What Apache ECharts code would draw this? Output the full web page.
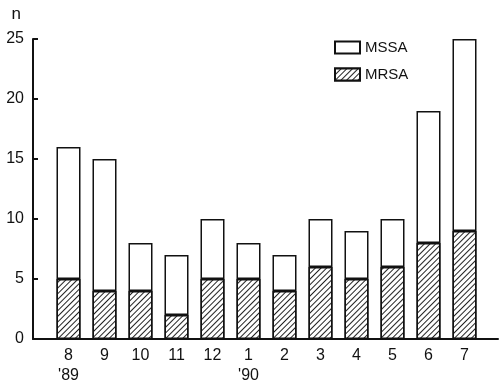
<!DOCTYPE html>
<html>
<head>
<meta charset="utf-8">
<script src="https://cdn.jsdelivr.net/npm/echarts@6/dist/echarts.min.js"></script>
<style>
  html, body { margin: 0; padding: 0; background: #fff; }
  #chart { width: 499px; height: 384px; }
</style>
</head>
<body>
<div id="chart"></div>
<script>
// months from Aug '89 to Jul '90
const months = ['8', '9', '10', '11', '12', '1', '2', '3', '4', '5', '6', '7']
const years = ["'89", '', '', '', '', "'90", '', '', '', '', '', '']
const mrsa = [5, 4, 4, 2, 5, 5, 4, 6, 5, 6, 8, 9]
const mssa = [11, 11, 4, 5, 5, 3, 3, 4, 4, 4, 11, 16]
const yTicks = [0, 5, 10, 15, 20, 25]

const ink = '#111'
const font = '"Liberation Sans", Arial, sans-serif'

const chart = echarts.init(document.getElementById('chart'))

chart.setOption({
  animation: false,
  backgroundColor: '#fff',
  legend: {
    orient: 'vertical',
    left: 334,
    top: 40,
    padding: 0,
    icon: 'rect',
    itemWidth: 25,
    itemHeight: 12,
    itemGap: 12,
    data: ['MSSA', 'MRSA'],
    textStyle: { color: ink, fontSize: 15, fontFamily: font }
  },
  grid: [
    // axis frame: spans full width
    { left: 33, right: 1, top: 39, bottom: 45, outerBoundsMode: 'none' },
    // bars
    { left: 50.5, width: 432, top: 39, bottom: 45, outerBoundsMode: 'none' }
  ],
  xAxis: [
    {
      gridIndex: 0,
      type: 'value',
      min: 0,
      max: 1,
      axisLine: { show: true, onZero: false, lineStyle: { color: ink, width: 2 } },
      axisTick: { show: false },
      axisLabel: { show: false },
      splitLine: { show: false }
    },
    {
      gridIndex: 1,
      type: 'category',
      data: months,
      axisLine: { show: false },
      axisTick: { show: false },
      axisLabel: {
        color: ink,
        fontSize: 16,
        fontFamily: font,
        margin: 7,
        lineHeight: 20,
        formatter: (v, i) => years[i] ? v + '\n' + years[i] : v
      }
    }
  ],
  yAxis: [
    {
      gridIndex: 0,
      type: 'value',
      min: yTicks[0],
      max: yTicks[yTicks.length - 1],
      interval: 5,
      name: 'n',
      nameLocation: 'end',
      nameGap: 16,
      nameTextStyle: { color: ink, fontSize: 17, fontFamily: font, align: 'right', padding: [0, 12, 0, 0] },
      axisLine: { show: true, lineStyle: { color: ink, width: 2 } },
      axisTick: { show: true, inside: true, length: 5, lineStyle: { color: ink, width: 2 } },
      axisLabel: { color: ink, fontSize: 16, fontFamily: font, margin: 9 },
      splitLine: { show: false }
    },
    {
      gridIndex: 1,
      type: 'value',
      min: 0,
      max: 25,
      show: false,
      splitLine: { show: false }
    }
  ],
  series: [
    {
      name: 'MRSA',
      type: 'bar',
      stack: 'n',
      xAxisIndex: 1,
      yAxisIndex: 1,
      barWidth: 24,
      data: mrsa,
      itemStyle: {
        color: '#fff',
        borderColor: ink,
        borderWidth: 1.5,
        decal: {
          symbol: 'rect',
          color: '#222',
          backgroundColor: '#fff',
          dashArrayX: [1, 0],
          dashArrayY: [1, 3],
          rotation: -Math.PI / 4
        }
      }
    },
    {
      name: 'MSSA',
      type: 'bar',
      stack: 'n',
      xAxisIndex: 1,
      yAxisIndex: 1,
      barWidth: 24,
      data: mssa,
      itemStyle: { color: '#fff', borderColor: ink, borderWidth: 1.5 }
    }
  ]
})
</script>
</body>
</html>
